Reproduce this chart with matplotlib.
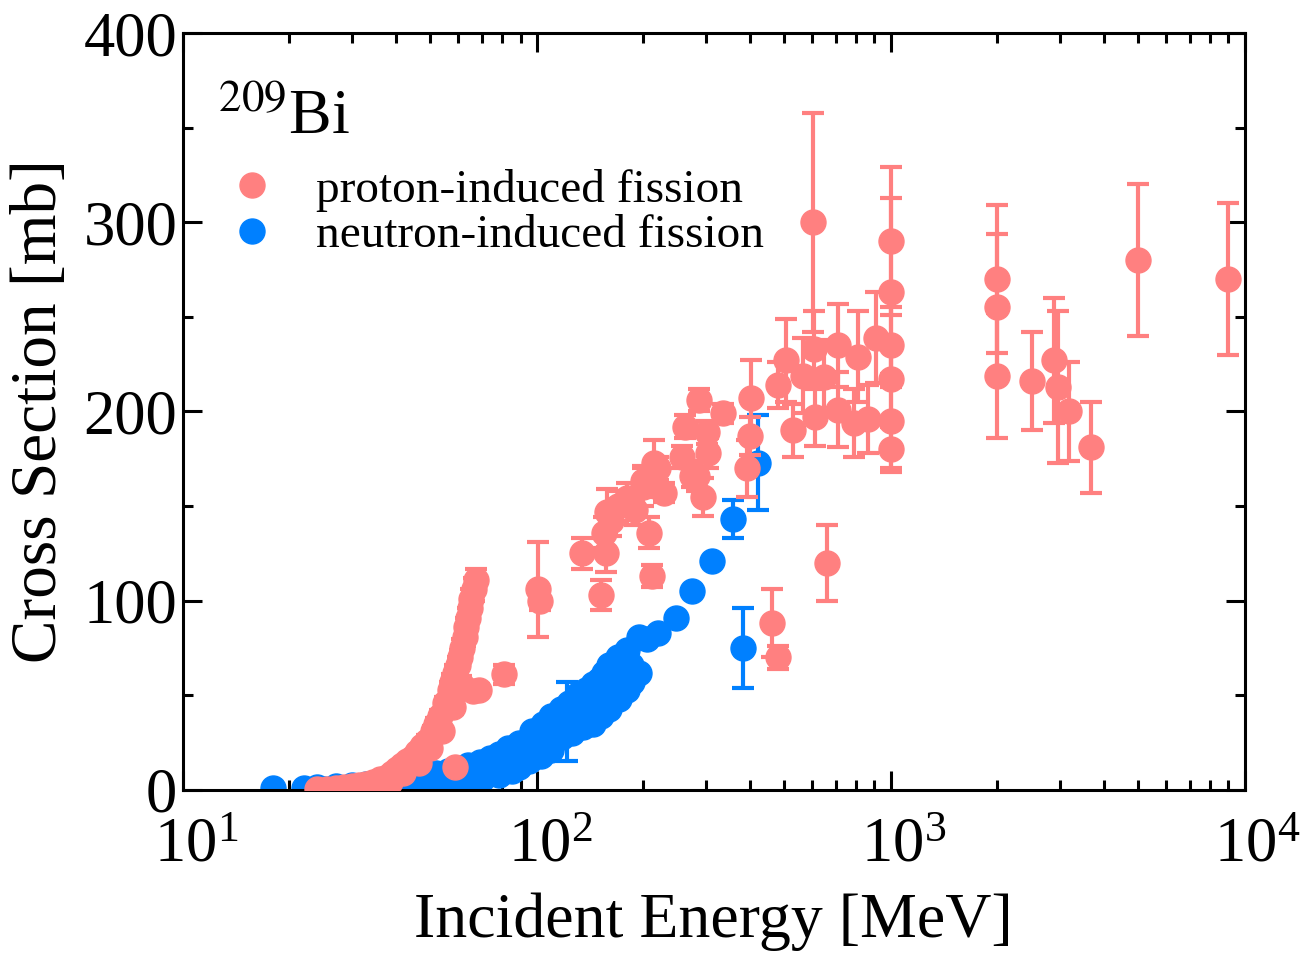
import matplotlib
matplotlib.use('Agg')
import matplotlib.pyplot as plt
import matplotlib.transforms as mtransforms
from matplotlib.lines import Line2D
from matplotlib.ticker import LogLocator, MultipleLocator, NullFormatter

plt.rcParams['font.family'] = ['Liberation Serif', 'DejaVu Serif']
plt.rcParams['mathtext.fontset'] = 'stix'

# proton-induced fission: energy [MeV], cross section [mb], error [mb]
p_E = [24.0, 25.5, 27.0, 28.5, 30.0, 31.5, 33.0, 34.5, 36.0, 37.7, 39.0, 40.2,
       41.5, 42.9, 44.3, 45.8, 47.3, 48.9, 50.8, 52.0, 53.2, 55.0, 56.7, 57.7,
       58.8, 59.8, 60.6, 61.6, 62.6, 63.2, 63.8, 64.6, 65.4, 66.5, 67.5,
       35.0, 38.5, 42.0, 46.5, 50.0, 54.0, 58.0, 61.0,
       58.8, 66.0, 68.5, 81.0,
       101, 102, 134, 152, 155, 157, 158, 162, 170, 180, 190, 199, 200, 208,
       211, 215, 220, 229, 257, 262, 275, 283, 288, 294, 302, 305, 335, 392,
       400, 404, 462, 479, 479, 505, 528, 567, 603, 607, 610, 650, 659, 709,
       709, 790, 807, 861, 908,
       1000, 1000, 1000, 1000, 1000, 1000, 2000, 2000, 2000, 2500, 2900, 2965,
       3186, 3675, 5000, 8950]
p_sig = [0.5, 0.7, 1.0, 1.3, 1.8, 2.4, 3.2, 4.0, 5.5, 7, 9, 11,
         13, 15, 17, 20, 23, 26, 31, 35, 39, 46, 53, 57,
         62, 66, 70, 75, 81, 86, 91, 96, 101, 106, 111,
         1.5, 4, 9, 14, 22, 31, 44, 56,
         12, 52, 53, 61,
         106, 100, 125, 103, 136, 125, 147, 142, 150, 154, 148, 163, 160, 136,
         113, 173, 170, 157, 176, 192, 166, 166, 206, 155, 189, 178, 199, 170,
         187, 207, 88, 70, 214, 227, 190, 219, 300, 233, 197, 218, 120, 235,
         201, 194, 229, 196, 239,
         290, 263, 235, 217, 195, 180, 270, 255, 219, 216, 227, 213,
         200, 181, 280, 270]
p_err = [0.5, 0.5, 0.5, 0.5, 0.5, 0.5, 0.5, 0.5, 1, 1, 1, 1,
         1, 2, 2, 2, 2, 3, 3, 3, 3, 3, 4, 4,
         4, 4, 4, 5, 5, 5, 5, 5, 5, 6, 6,
         0.5, 1, 1, 2, 2, 3, 4, 4,
         2, 4, 3, 5,
         25, 5, 8, 8, 8, 10, 12, 8, 8, 8, 8, 8, 10, 8,
         6, 12, 6, 5, 6, 6, 6, 8, 6, 10, 6, 8, 5, 15,
         10, 20, 18, 6, 12, 22, 14, 20, 58, 20, 15, 20, 20, 22,
         20, 18, 24, 18, 24,
         39, 50, 20, 20, 25, 12, 39, 39, 33, 26, 33, 40,
         26, 24, 40, 40]

# neutron-induced fission: energy [MeV], cross section [mb]
n_E = [18, 22, 24, 27, 30, 33, 36, 40, 44, 48, 52, 56, 60, 64, 69, 74, 78, 83,
       89, 97, 104, 110, 117, 123, 130, 138, 144, 150, 155, 160, 170, 180, 195,
       25, 30, 35, 40, 47, 55, 62, 70, 78, 85, 89, 95, 103, 110, 118, 126, 135,
       144, 152, 160, 171, 180, 186, 195,
       45, 52, 60, 68, 75, 82, 90, 98, 106, 114, 122, 131, 140, 148, 157, 166,
       175, 185]
n_sig = [1, 1, 1.5, 2, 2.5, 3, 3.5, 4.5, 6, 7.5, 9, 10, 11.5, 13, 14.5, 17, 19, 22,
         25, 31, 35, 39, 43, 46, 50, 53, 56, 58, 62, 66, 70, 74, 81,
         0.5, 0.8, 1, 1.5, 2, 3, 4.5, 6, 8, 10, 12, 15, 18, 21, 28, 30, 33,
         35, 39, 43, 48, 53, 57, 62,
         3.5, 5, 7, 9, 11, 14, 17, 22, 26, 31, 34, 38, 42, 46, 50, 55,
         60, 66]
# neutron points with visible error bars
ne_E = [205, 220, 248, 275, 312, 122, 358, 421, 382]
ne_sig = [80, 83, 91, 105, 121, 36, 143, 173, 75]
ne_err = [2, 2, 2, 2, 2, 21, 10, 25, 21]

p_color = '#ff8080'
n_color = '#0080ff'

fig = plt.figure(figsize=(13.06, 9.58), dpi=100)
ax = fig.add_axes([0.140, 0.1755, 0.813, 0.79])

ax.plot(n_E, n_sig, 'o', color=n_color, ms=18, zorder=2)
ax.errorbar(ne_E, ne_sig, yerr=ne_err, fmt='o', color=n_color, ms=18,
            elinewidth=3, capsize=8, capthick=3, zorder=2)
ax.errorbar(p_E, p_sig, yerr=p_err, fmt='o', color=p_color, ms=18,
            elinewidth=3, capsize=8, capthick=3, zorder=3)

ax.set_xscale('log')
ax.set_xlim(10, 1e4)
ax.set_ylim(0, 400)
ax.xaxis.set_major_locator(LogLocator(base=10, numticks=10))
ax.xaxis.set_minor_locator(LogLocator(base=10, subs=range(2, 10), numticks=20))
ax.xaxis.set_minor_formatter(NullFormatter())
ax.yaxis.set_major_locator(MultipleLocator(100))
ax.yaxis.set_minor_locator(MultipleLocator(50))

ax.tick_params(which='both', direction='in', top=True, right=True, width=2.2,
               labelsize=45)
ax.tick_params(axis='x', which='major', pad=20)
ax.tick_params(axis='y', which='major', pad=4)
ax.tick_params(which='major', length=14)
ax.tick_params(which='minor', length=7)
for s in ax.spines.values():
    s.set_linewidth(2.2)

# the "10" sits over the tick, exponent hangs to the right
shift = mtransforms.ScaledTranslation(0.13, 0, fig.dpi_scale_trans)
for lab in ax.get_xticklabels():
    lab.set_transform(lab.get_transform() + shift)

ax.set_xlabel('Incident Energy [MeV]', fontsize=46, labelpad=12)
ax.set_ylabel('Cross Section [mb]', fontsize=47, labelpad=10)

ax.text(0.033, 0.925, r'$^{209}$Bi', transform=ax.transAxes, fontsize=46,
        va='top', ha='left')

handles = [Line2D([], [], ls='', marker='o', color=p_color, ms=18),
           Line2D([], [], ls='', marker='o', color=n_color, ms=18)]
ax.legend(handles, ['proton-induced fission', 'neutron-induced fission'],
          loc='upper left', bbox_to_anchor=(0.010, 0.852), frameon=False,
          fontsize=34, handletextpad=0.6, handlelength=1.5,
          labelspacing=0.05, borderpad=0)

fig.savefig('out.png', dpi=100)
